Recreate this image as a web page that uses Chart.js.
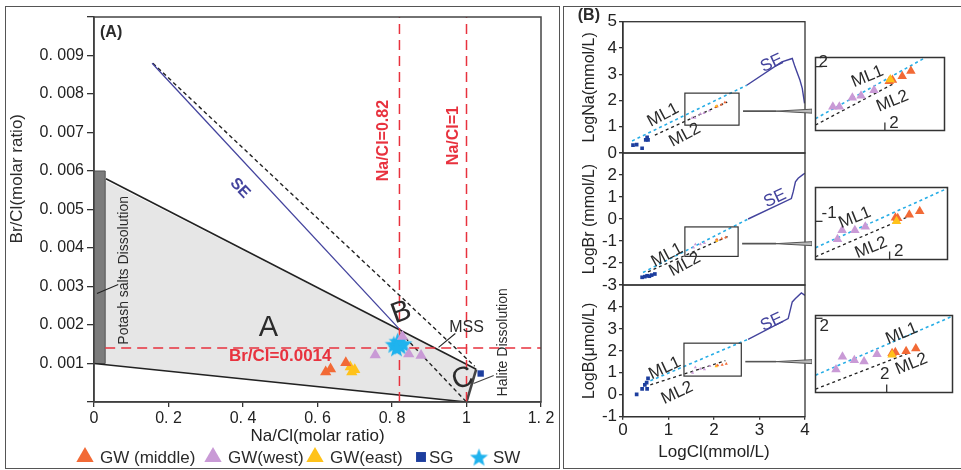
<!DOCTYPE html>
<html>
<head>
<meta charset="utf-8">
<script src="https://cdn.jsdelivr.net/npm/chart.js@4.4.1/dist/chart.umd.min.js"></script>
<style>
html, body { margin: 0; padding: 0; background: #fff; }
#wrap { position: relative; width: 961px; height: 470px; overflow: hidden; }
canvas { position: absolute; }
#cNa { z-index: 5; }
.frame { position: absolute; border: 1.5px solid #555; box-sizing: border-box; }
</style>
</head>
<body>
<div id="wrap">
  <div class="frame" style="left:5px;top:6px;width:555px;height:463px"></div>
  <div class="frame" style="left:563px;top:6px;width:420px;height:463px"></div>
  <canvas id="cA"></canvas>
  <canvas id="cBr"></canvas>
  <canvas id="cB"></canvas>
  <canvas id="iNa"></canvas>
  <canvas id="iBr"></canvas>
  <canvas id="iB"></canvas>
  <canvas id="cNa"></canvas>
</div>
<script>
// ---- panel A : Na/Cl vs Br/Cl (molar ratio) ----
const gwMiddleA = [[0.622, 0.00078], [0.635, 0.00086], [0.676, 0.00102]];
const gwWestA = [[0.755, 0.00122], [0.828, 0.0017], [0.845, 0.00125], [0.878, 0.00121]];
const gwEastA = [[0.688, 0.00091], [0.692, 0.00078], [0.70, 0.00084]];
const sgA = [[1.038, 0.00074]];
const swA = [[0.805, 0.0015], [0.815, 0.00158], [0.822, 0.00146], [0.83, 0.00152], [0.812, 0.00141]];
const seA = [[0.156, 0.0088], [0.823, 0.00186]];
const dashUpperA = [[0.158, 0.0088], [1.022, 0.00093]];
const dashLowerA = [[0.823, 0.0018], [1.0, 0.0]];
const fieldUpperA = [[0.032, 0.0058], [1.026, 0.00085]];
const fieldLowerA = [[0, 0.001], [1.0, 0]];
const haliteA = [[1.0, 0], [1.026, 0.00085]];
const fieldA = [[0, 0.0059], [1.026, 0.00085], [1.0, 0], [0, 0.001]];
const potashA = [[0, 0.001], [0.03, 0.001], [0.03, 0.006], [0, 0.006]];
const brClLevel = 0.0014;
const naClLevels = [0.82, 1];
const potashLeader = [[0.008, 0.00282], [0.065, 0.00305]];
const mssLeader = [[0.925, 0.00142], [0.97, 0.00178]];
const haliteLeader = [[1.019, 0.00048], [1.073, 0.00069]];

// ---- panel B : log plots against LogCl ----
const sgNa = [[0.22, 0.3], [0.3, 0.32], [0.42, 0.18], [0.5, 0.5], [0.53, 0.6], [0.55, 0.5]];
const westNa = [[1.52, 1.34], [1.58, 1.34], [1.70, 1.49], [1.78, 1.52], [1.90, 1.61]];
const middleNa = [[2.04, 1.76], [2.07, 1.78], [2.16, 1.84], [2.24, 1.93]];
const eastNa = [[2.05, 1.79]];
const ml1Na = [[0.2, 0.46], [2.72, 2.58]];
const ml2Na = [[0.7, 0.68], [2.29, 1.94]];
const seNa = [[2.72, 2.58], [3.49, 3.47], [3.72, 3.6], [3.78, 3.28], [3.89, 2.77], [3.94, 2.46], [3.99, 1.89]];

const sgBr = [[0.42, -2.65], [0.48, -2.62], [0.53, -2.58], [0.58, -2.6], [0.63, -2.55], [0.7, -2.5]];
const westBr = [[1.55, -1.30], [1.59, -1.15], [1.70, -1.15], [1.79, -1.09]];
const middleBr = [[2.05, -0.94], [2.07, -0.95], [2.17, -0.89], [2.26, -0.83]];
const eastBr = [[2.06, -1.0]];
const ml1Br = [[0.44, -2.43], [2.75, 0.0]];
const ml2Br = [[0.55, -2.4], [2.3, -0.8]];
const seBr = [[2.75, 0.0], [3.70, 0.93], [3.74, 1.23], [3.79, 1.69], [3.85, 1.85], [3.96, 2.03], [4.0, 2.08]];

const sgB = [[0.3, 0.02], [0.42, 0.27], [0.48, 0.45], [0.53, 0.27], [0.55, 0.75], [0.52, 0.55]];
const westB = [[1.53, 1.00], [1.59, 1.25], [1.70, 1.18], [1.79, 1.16], [1.91, 1.30]];
const middleB = [[2.05, 1.32], [2.08, 1.34], [2.18, 1.36], [2.27, 1.41]];
const eastB = [[2.05, 1.29]];
const ml1B = [[0.48, 0.53], [2.75, 2.53]];
const ml2B = [[0.6, 0.45], [2.25, 1.55]];
const seB = [[2.75, 2.52], [3.63, 3.47], [3.72, 4.23], [3.79, 4.38], [3.92, 4.64], [4.0, 4.53]];

// zoom windows [x1, x2, y1, y2] and the inset views of them
const zoomNa = [1.36, 2.55, 1.06, 2.28];
const zoomBr = [1.36, 2.53, -1.70, -0.36];
const zoomB = [1.34, 2.6, 0.85, 2.35];
const insetNaRange = [1.36, 2.55, 0.95, 2.15];
const insetBrRange = [1.36, 2.5, -1.636, -0.436];
const insetBRange = [1.34, 2.61, 0.554, 2.054];
const ml1NaIn = [[1.36, 1.145], [2.375, 2.15]];
const ml2NaIn = [[1.36, 1.04], [2.07, 1.71]];
const ml1BrIn = [[1.36, -1.44], [2.5, -0.45]];
const ml2BrIn = [[1.36, -1.59], [2.2, -0.89]];
const ml1BIn = [[1.34, 0.89], [2.61, 2.04]];
const ml2BIn = [[1.34, 0.62], [2.2, 1.32]];

const FONT = "'Liberation Sans', Arial, Helvetica, sans-serif";
Chart.defaults.font.family = FONT;
Chart.defaults.color = '#222';

const C = {
  middle: '#F26A36', west: '#C99AD6', east: '#FFC21A', sg: '#1D3E9E', sw: '#1FB3EE',
  red: '#E8323E', se: '#43439D', ml1: '#27ADE6', ink: '#2b2b2b'
};

function starImg(size, color) {
  const c = document.createElement('canvas');
  c.width = c.height = size;
  const g = c.getContext('2d');
  const r = size / 2, ri = r * 0.42;
  g.beginPath();
  for (let i = 0; i < 10; i++) {
    const a = -Math.PI / 2 + i * Math.PI / 5;
    const rr = i % 2 ? ri : r;
    g.lineTo(r + rr * Math.cos(a), r + 1 + rr * Math.sin(a));
  }
  g.closePath();
  g.fillStyle = color;
  g.fill();
  return c;
}
const star = starImg(19, C.sw);

const pts = arr => arr.map(([x, y]) => ({x, y}));

function line(data, color, width, dash, order) {
  return {data: pts(data), showLine: true, borderColor: color, borderWidth: width,
    borderDash: dash || [], pointRadius: 0, fill: false, order: order == null ? 5 : order};
}
function marks(label, data, style, color, r) {
  return {label, data: pts(data), pointStyle: style, backgroundColor: color, borderColor: color,
    borderWidth: 0, pointRadius: r, showLine: false, order: 0};
}
function area(data, color, border) {
  return {data: pts(data), showLine: true, fill: 'shape', backgroundColor: color,
    borderColor: border || color, borderWidth: border ? 1 : 0, pointRadius: 0, order: 10};
}

function box(id, l, t, w, h) {
  const c = document.getElementById(id);
  c.width = w; c.height = h;
  c.style.left = l + 'px'; c.style.top = t + 'px';
  c.style.width = w + 'px'; c.style.height = h + 'px';
  return c;
}

// free text placed in data coordinates
const notes = {
  id: 'notes',
  afterDatasetsDraw(chart, args, opts) {
    const {ctx, scales: {x, y}} = chart;
    (opts.items || []).forEach(t => {
      ctx.save();
      ctx.translate(x.getPixelForValue(t.x), y.getPixelForValue(t.y));
      ctx.rotate((t.rot || 0) * Math.PI / 180);
      ctx.font = t.font || '17px ' + FONT;
      ctx.fillStyle = t.color || C.ink;
      ctx.textAlign = 'center';
      ctx.textBaseline = 'middle';
      ctx.fillText(t.text, 0, 0);
      ctx.restore();
    });
  }
};

// y tick labels written from the scale's own ticks (used on the top LogNa panel)
const yLabels = {
  id: 'yLabels',
  afterDraw(chart, args, opts) {
    if (!opts.on) return;
    const {ctx, scales: {y}} = chart;
    ctx.save();
    ctx.font = '17px ' + FONT;
    ctx.fillStyle = '#222';
    ctx.textAlign = 'right';
    ctx.textBaseline = 'middle';
    y.ticks.forEach(t => {
      ctx.fillText(String(Math.round(t.value)), y.right - 6, y.getPixelForValue(t.value));
    });
    ctx.restore();
  }
};

// plot frame, zoom window and connector towards the inset
const frame = {
  id: 'frame',
  afterDatasetsDraw(chart, args, opts) {
    const {ctx, chartArea: a, scales: {x, y}} = chart;
    ctx.save();
    ctx.strokeStyle = opts.color || '#333';
    ctx.lineWidth = opts.width || 1.3;
    ctx.strokeRect(a.left, a.top, a.right - a.left, a.bottom - a.top);
    if (opts.zoom) {
      const [x1, x2, y1, y2] = opts.zoom;
      const l = x.getPixelForValue(x1), r = x.getPixelForValue(x2);
      const t = y.getPixelForValue(y2), b = y.getPixelForValue(y1);
      ctx.lineWidth = 1.2;
      ctx.strokeRect(l, t, r - l, b - t);
      const m = (t + b) / 2 + 2;
      const w = chart.width;
      ctx.strokeStyle = '#555';
      ctx.lineWidth = 1.6;
      ctx.beginPath();
      ctx.moveTo(r + 4, m); ctx.lineTo(w - 36, m);
      ctx.stroke();
      ctx.fillStyle = '#bbb';
      ctx.lineWidth = 1;
      ctx.beginPath();
      ctx.moveTo(w - 36, m); ctx.lineTo(w, m - 2); ctx.lineTo(w, m + 2); ctx.closePath();
      ctx.fill(); ctx.stroke();
    }
    ctx.restore();
  }
};

// the inward "2" / "-1" ticks of the insets
const insetTicks = {
  id: 'insetTicks',
  afterDatasetsDraw(chart, args, opts) {
    const {ctx, chartArea: a, scales: {x, y}} = chart;
    ctx.save();
    ctx.strokeStyle = '#333';
    ctx.lineWidth = 1.3;
    ctx.fillStyle = C.ink;
    ctx.font = '17px ' + FONT;
    ctx.textBaseline = 'middle';
    const yt = opts.y, xt = opts.x;
    const py = y.getPixelForValue(yt.v);
    ctx.beginPath(); ctx.moveTo(a.left, py); ctx.lineTo(a.left + 7, py); ctx.stroke();
    ctx.textAlign = 'left';
    ctx.fillText(yt.label, a.left + yt.dx, py + yt.dy);
    const px = x.getPixelForValue(xt.v);
    ctx.beginPath(); ctx.moveTo(px, a.bottom); ctx.lineTo(px, a.bottom - 8); ctx.stroke();
    ctx.textAlign = 'center';
    ctx.fillText(xt.label, px + xt.dx, a.bottom + xt.dy);
    ctx.restore();
  }
};

// legend row under panel A
const keyRow = {
  id: 'keyRow',
  afterDraw(chart, args, opts) {
    const ctx = chart.ctx;
    ctx.save();
    ctx.font = '17px ' + FONT;
    ctx.textBaseline = 'middle';
    ctx.textAlign = 'left';
    opts.items.forEach(it => {
      const ds = chart.data.datasets[it.index];
      ctx.fillStyle = ds.backgroundColor;
      Chart.helpers.drawPoint(ctx, {pointStyle: ds.pointStyle, rotation: 0, radius: it.r, borderWidth: 0}, it.x, opts.y);
      ctx.fillStyle = C.ink;
      ctx.fillText(ds.label, it.x + it.gap, opts.y + 1);
    });
    ctx.restore();
  }
};

const noEvents = {responsive: false, animation: false, events: []};

// ---------------- panel B ----------------
function bChart(id, top, height, pad, yr, hide, title, sets, items, zoom, withX, ownLabels) {
  const xScale = {type: 'linear', min: 0, max: 4, display: false};
  if (withX) {
    Object.assign(xScale, {
      display: true,
      afterFit(s) { s.height = 53.3; },
      ticks: {stepSize: 1, font: {size: 17}, padding: 0, maxRotation: 0, autoSkip: false},
      grid: {drawOnChartArea: false, tickLength: 3, color: '#333', lineWidth: 1.3},
      border: {color: '#333', width: 1.3},
      title: {display: true, text: 'LogCl(mmol/L)', font: {size: 17}, padding: {top: 0, bottom: 7.8}}
    });
  }
  return new Chart(box(id, 563, top, 249, height), {
    type: 'scatter',
    data: {datasets: sets},
    options: {
      ...noEvents,
      layout: {padding: pad},
      plugins: {legend: {display: false}, tooltip: {enabled: false}, notes: {items}, frame: {zoom},
        yLabels: {on: !!ownLabels}},
      scales: {
        x: xScale,
        y: {
          type: 'linear', min: yr[0], max: yr[1],
          afterFit(s) { s.width = 60; },
          ticks: {display: !ownLabels, stepSize: 1, font: {size: 17}, padding: 2, autoSkip: false,
            callback: v => hide.includes(v) ? '' : v},
          grid: {drawOnChartArea: false, tickLength: 4, color: '#333', lineWidth: 1.3},
          border: {color: '#333', width: 1.3},
          title: {display: true, text: title, font: {size: 16}, padding: {top: 17.4, bottom: 0}}
        }
      }
    },
    plugins: [notes, frame, yLabels]
  });
}

function bSets(sg, west, middle, east, ml1, ml2, se) {
  return [
    marks('GW(east)', east, 'triangle', C.east, 1.8),
    marks('GW (middle)', middle, 'triangle', C.middle, 1.8),
    marks('GW(west)', west, 'triangle', C.west, 1.8),
    marks('SG', sg, 'rect', C.sg, 2.6),
    line(se, C.se, 1.4),
    line(ml1, C.ml1, 1.6, [3, 3]),
    line(ml2, '#222', 1.3, [3, 3])
  ];
}
const mlNotes = (a, b, s, rot) => [
  {text: 'ML1', x: a[0], y: a[1], rot},
  {text: 'ML2', x: b[0], y: b[1], rot},
  {text: 'SE', x: s[0], y: s[1], rot: -25, color: C.se}
];

bChart('cNa', 0, 166, {left: 0, top: 21.7, right: 7, bottom: 13}, [0, 5], [], 'LogNa(mmol/L)',
  bSets(sgNa, westNa, middleNa, eastNa, ml1Na, ml2Na, seNa),
  [...mlNotes([0.88, 1.44], [1.36, 0.68], [3.27, 3.42], -28),
   {text: '(B)', x: -0.75, y: 5.25, font: 'bold 16px ' + FONT}],
  zoomNa, false, true);

bChart('cBr', 140, 158, {left: 0, top: 13, right: 7, bottom: 13}, [-3, 3], [3], 'LogBr (mmol/L)',
  bSets(sgBr, westBr, middleBr, eastBr, ml1Br, ml2Br, seBr),
  mlNotes([0.97, -1.65], [1.36, -2.07], [3.34, 0.93], -28),
  zoomBr, false, false);

bChart('cB', 272, 198, {left: 0, top: 13, right: 7, bottom: 0}, [-1, 5], [5], 'LogB(\u03bcmol/L)',
  bSets(sgB, westB, middleB, eastB, ml1B, ml2B, seB),
  mlNotes([0.92, 1.21], [1.19, 0.08], [3.27, 3.3], -25),
  zoomB, true, false);

// ---------------- insets ----------------
function inset(id, l, t, w, h, rng, west, middle, east, ml1, ml2, items, ticks) {
  return new Chart(box(id, l, t, w, h), {
    type: 'scatter',
    data: {datasets: [
      marks('GW(east)', east, 'triangle', C.east, 5.5),
      marks('GW (middle)', middle, 'triangle', C.middle, 5.5),
      marks('GW(west)', west, 'triangle', C.west, 5.5),
      line(ml1, C.ml1, 1.6, [3, 3]),
      line(ml2, '#222', 1.3, [3, 3])
    ]},
    options: {
      ...noEvents,
      layout: {padding: 2},
      plugins: {legend: {display: false}, tooltip: {enabled: false}, notes: {items}, frame: {width: 1.5}, insetTicks: ticks},
      scales: {
        x: {type: 'linear', min: rng[0], max: rng[1], display: false},
        y: {type: 'linear', min: rng[2], max: rng[3], display: false}
      }
    },
    plugins: [notes, frame, insetTicks]
  });
}

inset('iNa', 810, 52, 140, 84, insetNaRange, westNa, middleNa, eastNa, ml1NaIn, ml2NaIn,
  [{text: 'ML1', x: 1.84, y: 1.835, rot: -22}, {text: 'ML2', x: 2.07, y: 1.43, rot: -22}],
  {y: {v: 2, label: '2', dx: 3, dy: -4}, x: {v: 2, label: '2', dx: 9, dy: -7}});

inset('iBr', 810, 182, 143, 83, insetBrRange, westBr, middleBr, eastBr, ml1BrIn, ml2BrIn,
  [{text: 'ML1', x: 1.70, y: -0.94, rot: -22}, {text: 'ML2', x: 1.84, y: -1.44, rot: -22}],
  {y: {v: -1, label: '-1', dx: 6, dy: -8}, x: {v: 2, label: '2', dx: 9, dy: -8}});

inset('iB', 810, 310, 148, 88, insetBRange, westB, middleB, eastB, ml1BIn, ml2BIn,
  [{text: 'ML1', x: 2.14, y: 1.70, rot: -22}, {text: 'ML2', x: 2.23, y: 1.11, rot: -22}],
  {y: {v: 2, label: '2', dx: 4, dy: 8}, x: {v: 2, label: '2', dx: -2, dy: -18}});

// ---------------- panel A ----------------
const tickA = v => {
  const n = Math.round(v * 1000);
  return (n === 0 || n === 10) ? '' : '0. 00' + n;
};
const tickAx = v => {
  const n = Math.round(v * 10);
  if (n === 0) return '0';
  if (n === 10) return '1';
  return (n / 10).toFixed(1).replace('.', '. ');
};

new Chart(box('cA', 0, 0, 560, 470), {
  type: 'scatter',
  data: {datasets: [
    marks('GW (middle)', gwMiddleA, 'triangle', C.middle, 6.5),
    marks('GW(west)', gwWestA, 'triangle', C.west, 6.5),
    marks('GW(east)', gwEastA, 'triangle', C.east, 6.5),
    marks('SG', sgA, 'rect', C.sg, 4.5),
    marks('SW', swA, star, C.sw, 9),
    line(seA, C.se, 1.3),
    line(dashUpperA, '#222', 1.4, [4, 3]),
    line(dashLowerA, '#222', 1.4, [4, 3]),
    line(fieldUpperA, '#222', 1.6),
    line(fieldLowerA, '#222', 1.6),
    line(haliteA, '#444', 2.6),
    line([[0.03, brClLevel], [1.2, brClLevel]], C.red, 1.5, [10, 6], 4),
    line([[naClLevels[0], 0], [naClLevels[0], 0.01]], C.red, 1.5, [10, 6], 4),
    line([[naClLevels[1], 0], [naClLevels[1], 0.01]], C.red, 1.5, [10, 6], 4),
    line(potashLeader, '#222', 1.1),
    line(mssLeader, '#222', 1.1),
    line(haliteLeader, '#444', 1.1),
    area(potashA, '#7c7c7c', '#555'),
    area(fieldA, '#e6e6e6')
  ]},
  options: {
    ...noEvents,
    layout: {padding: {top: 17, right: 19, left: 0, bottom: 0}},
    plugins: {
      legend: {display: false},
      tooltip: {enabled: false},
      notes: {items: [
        {text: '(A)', x: 0.046, y: 0.0096, font: 'bold 16px ' + FONT},
        {text: 'Br/Cl(molar ratio)', x: -0.207, y: 0.0058, rot: -90},
        {text: 'A', x: 0.468, y: 0.00191, font: '29px ' + FONT},
        {text: 'B', x: 0.825, y: 0.00232, rot: -20, font: '29px ' + FONT},
        {text: 'C', x: 0.99, y: 0.0006, rot: -20, font: '29px ' + FONT},
        {text: 'MSS', x: 1.0, y: 0.00194, font: '16px ' + FONT},
        {text: 'Halite Dissolution', x: 1.099, y: 0.00155, rot: -90, font: '14px ' + FONT},
        {text: 'Potash salts Dissolution', x: 0.081, y: 0.00342, rot: -90, font: '14px ' + FONT},
        {text: 'SE', x: 0.392, y: 0.00555, rot: 47, color: C.se, font: 'bold 16px ' + FONT},
        {text: 'Na/Cl=0.82', x: 0.777, y: 0.00679, rot: -90, color: C.red, font: 'bold 16px ' + FONT},
        {text: 'Na/Cl=1', x: 0.965, y: 0.00692, rot: -90, color: C.red, font: 'bold 16px ' + FONT},
        {text: 'Br/Cl=0.0014', x: 0.5, y: 0.00118, color: C.red, font: 'bold 17px ' + FONT}
      ]},
      frame: {color: '#444', width: 1.5},
      keyRow: {y: 457, items: [
        {index: 0, x: 85, r: 10, gap: 15},
        {index: 1, x: 213, r: 10, gap: 15},
        {index: 2, x: 315, r: 10, gap: 15},
        {index: 3, x: 421, r: 7, gap: 8},
        {index: 4, x: 479, r: 9, gap: 14}
      ]}
    },
    scales: {
      x: {
        type: 'linear', min: 0, max: 1.2,
        afterFit(s) { s.height = 68; },
        ticks: {stepSize: 0.2, font: {size: 16}, padding: 2, callback: tickAx, maxRotation: 0, autoSkip: false},
        grid: {drawOnChartArea: false, tickLength: 5, color: '#333', lineWidth: 1.3},
        border: {color: '#333', width: 1.5},
        title: {display: true, text: 'Na/Cl(molar ratio)', font: {size: 17}, padding: {top: 0, bottom: 23}}
      },
      y: {
        type: 'linear', min: 0, max: 0.01,
        afterFit(s) { s.width = 94; },
        ticks: {stepSize: 0.001, font: {size: 16}, padding: 3, callback: tickA, autoSkip: false},
        grid: {drawOnChartArea: false, tickLength: 7, color: '#333', lineWidth: 1.3},
        border: {color: '#333', width: 1.5}
      }
    }
  },
  plugins: [notes, frame, keyRow]
});
</script>
</body>
</html>
